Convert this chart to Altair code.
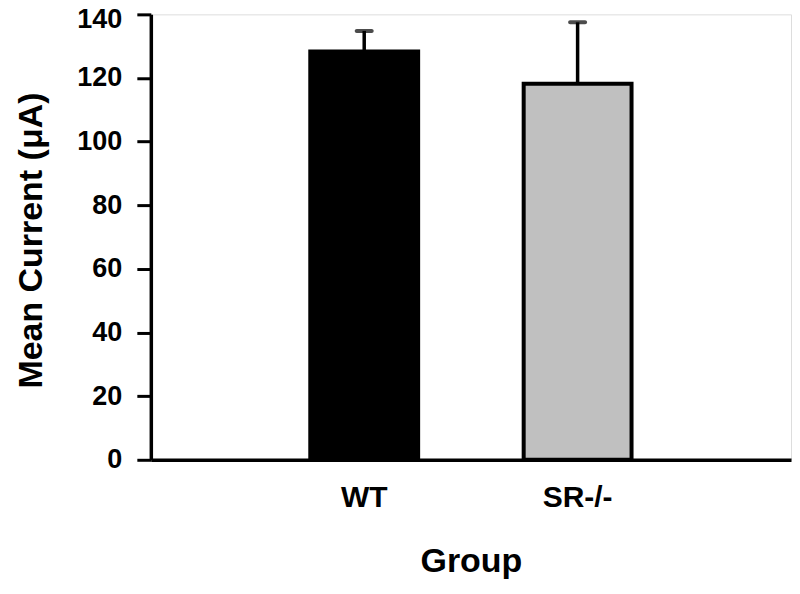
import altair as alt
import pandas as pd

groups = ["WT", "SR-/-"]
means = [128.3, 118.2]
errors = [6.5, 19.3]
fills = ["#000000", "#c0c0c0"]
y_ticks = [0, 20, 40, 60, 80, 100, 120, 140]

df = pd.DataFrame({
    "Group": groups,
    "Mean": means,
    "Upper": [m + e for m, e in zip(means, errors)],
    "Fill": fills,
})

FONT = "Liberation Sans"

x_enc = alt.X(
    "Group:N",
    sort=groups,
    scale=alt.Scale(paddingInner=0, paddingOuter=0.5),
    axis=alt.Axis(
        title="Group",
        labelAngle=0,
        labelFont=FONT, labelFontSize=30, labelFontWeight="bold", labelColor="black",
        labelPadding=23,
        ticks=False, tickSize=0,
        domainColor="black", domainWidth=3.5,
        titleFont=FONT, titleFontSize=34, titleFontWeight="bold", titleColor="black",
        titleBaseline="alphabetic", titleY=112,
        grid=False,
    ),
)

y_scale = alt.Scale(domain=[0, 140], nice=False)
y_axis = alt.Axis(
    title="Mean Current (μA)",
    values=y_ticks,
    labelFont=FONT, labelFontSize=27, labelFontWeight="bold", labelColor="black",
    labelPadding=15,
    labelOffset={"condition": {"test": "datum.value == 140", "value": 5}, "value": 0},
    tickSize=14, tickWidth=3, tickColor="black",
    domainColor="black", domainWidth=3.5,
    titleFont=FONT, titleFontSize=34, titleFontWeight="bold", titleColor="black",
    titleBaseline="alphabetic", titleX=-109, titleY=226,
    grid=False,
)

bars = alt.Chart(df).mark_bar(size=108, stroke="black", strokeWidth=4).encode(
    x=x_enc,
    y=alt.Y("Mean:Q", scale=y_scale, axis=y_axis),
    fill=alt.Fill("Fill:N", scale=None),
)

stems = alt.Chart(df).mark_rule(color="black", strokeWidth=3.5).encode(
    x=alt.X("Group:N", sort=groups),
    y=alt.Y("Mean:Q", scale=y_scale),
    y2="Upper:Q",
)

caps = alt.Chart(df).mark_tick(color="black", size=19, thickness=4, cornerRadius=2).encode(
    x=alt.X("Group:N", sort=groups),
    y=alt.Y("Upper:Q", scale=y_scale),
)

chart = alt.layer(bars, stems, caps).properties(
    width=641,
    height=446,
    padding={"left": 143, "top": 6, "right": 1, "bottom": 120},
    autosize=alt.AutoSizeParams(type="none"),
).configure_view(stroke=None).configure(background="white")

chart.save("out.html", embed_options={"renderer": "svg", "actions": False})
